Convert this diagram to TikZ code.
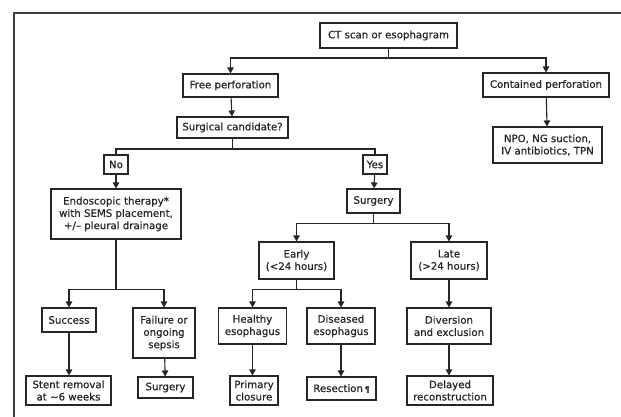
\documentclass[tikz,border=0pt]{standalone}
\usepackage{fontspec}
\setmainfont[FakeBold=0.6]{DejaVu Sans}
\usetikzlibrary{arrows.meta}
\tikzset{
  bx/.style={draw=black!85, line width=1.1pt, inner sep=1pt, align=center,
    font=\fontsize{10.2}{12.3}\selectfont, text=black!85},
  conn/.style={draw=black!85, line width=1.1pt},
  arr/.style={conn, -{Triangle[length=6pt,width=6.5pt]}},
}
\begin{document}
\begin{tikzpicture}[x=1pt,y=-1pt]
\useasboundingbox (0,0) rectangle (621,417);
\fill[white] (0,0) rectangle (621,417);
\coordinate (fa) at (14,417);
\coordinate (fb) at (14,13);
\coordinate (fc) at (621,13);
\draw[black!75, line width=1.5pt] (fa) -- (fb) -- (fc);

\node[bx, minimum width=137pt, minimum height=25pt] (ct) at (388.5,35.5) {CT scan or esophagram};
\node[bx, minimum width=95pt, minimum height=23pt] (free) at (230.5,85.5) {Free perforation};
\node[bx, minimum width=126pt, minimum height=24pt] (cont) at (546,85) {Contained perforation};
\node[bx, minimum width=111pt, minimum height=21pt] (surg) at (232.5,127.5) {Surgical candidate?};
\node[bx, minimum width=109pt, minimum height=36pt] (npo) at (547.5,145) {NPO, NG suction,\\IV antibiotics, TPN};
\node[bx, minimum width=24pt, minimum height=19pt] (no) at (116,164.5) {No};
\node[bx, minimum width=24pt, minimum height=19pt] (yes) at (375,164.5) {Yes};
\node[bx, minimum width=130pt, minimum height=50pt] (endo) at (116,214) {Endoscopic therapy*\\with SEMS placement,\\+/{\textendash} pleural drainage};
\node[bx, minimum width=53pt, minimum height=24pt] (surgery) at (373.5,201) {Surgery};
\node[bx, minimum width=75pt, minimum height=37pt] (early) at (296.5,260.5) {Early\\(<24 hours)};
\node[bx, minimum width=76pt, minimum height=37pt] (late) at (449,260.5) {Late\\(>24 hours)};
\node[bx, minimum width=54pt, minimum height=24pt] (success) at (69,320) {Success};
\node[bx, minimum width=62pt, minimum height=50pt] (fail) at (164,333) {Failure or\\ongoing\\sepsis};
\node[bx, minimum width=68pt, minimum height=36pt] (healthy) at (252.5,326) {Healthy\\esophagus};
\node[bx, minimum width=68pt, minimum height=36pt] (diseased) at (341,326) {Diseased\\esophagus};
\node[bx, minimum width=84pt, minimum height=36pt] (div) at (449,326) {Diversion\\and exclusion};
\node[bx, minimum width=85pt, minimum height=29pt] (stent) at (68.5,390.5) {Stent removal\\at \textasciitilde6 weeks};
\node[bx, minimum width=55pt, minimum height=21pt] (surg2) at (165.5,387.5) {Surgery};
\node[bx, minimum width=48pt, minimum height=29pt] (primary) at (254,390.5) {Primary\\closure};
\node[bx, minimum width=69pt, minimum height=23pt] (resec) at (341.5,388.5) {Resection\,{\footnotesize¶}};
\node[bx, minimum width=86pt, minimum height=29pt] (delayed) at (450,390.5) {Delayed\\reconstruction};

\draw[arr] (ct.south) -- ++(0,9.5) -| (free.north);
\draw[arr] (ct.south) -- ++(0,9.5) -| (cont.north);
\draw[arr] (free) -- (surg);
\draw[arr] (cont) -- (npo);
\draw[conn] (surg.south) -- ++(0,10.5) -| (no.north);
\draw[conn] (surg.south) -- ++(0,10.5) -| (yes.north);
\draw[arr] (no) -- (endo);
\draw[arr] (yes) -- (surgery);
\draw[arr] (surgery.south) -- ++(0,10) -| (early.north);
\draw[arr] (surgery.south) -- ++(0,10) -| (late.north);
\draw[arr] (endo.south) -- ++(0,50) -| (success.north);
\draw[arr] (endo.south) -- ++(0,50) -| (fail.north);
\draw[arr] (early.south) -- ++(0,10) -| (healthy.north);
\draw[arr] (early.south) -- ++(0,10) -| (diseased.north);
\draw[arr] (late) -- (div);
\draw[arr] (success) -- (success |- stent.north);
\draw[arr] (fail) -- (surg2);
\draw[arr] (healthy) -- (healthy |- primary.north);
\draw[arr] (diseased) -- (diseased |- resec.north);
\draw[arr] (div) -- (div |- delayed.north);
\end{tikzpicture}
\end{document}
